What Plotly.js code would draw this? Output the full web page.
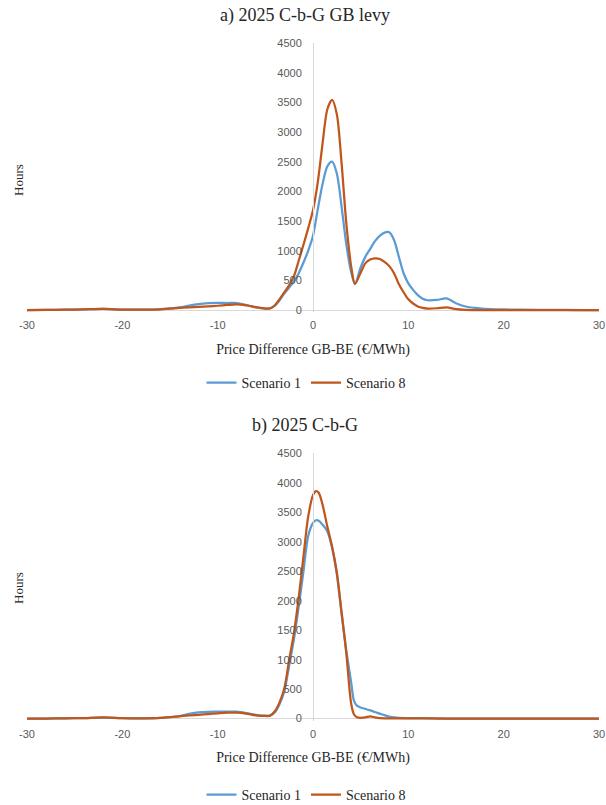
<!DOCTYPE html>
<html>
<head>
<meta charset="utf-8">
<script src="https://cdn.plot.ly/plotly-3.0.1.min.js"></script>
<style>html,body{margin:0;padding:0;background:#fff;}#chart{width:606px;height:805px;}</style>
</head>
<body>
<div id="chart"></div>
<script>
// ---- data ----
const titleA = "a) 2025 C-b-G GB levy";
const titleB = "b) 2025 C-b-G";
const seriesNames = ["Scenario 1", "Scenario 8"];
const xTitle = "Price Difference GB-BE (€/MWh)";
const yTitle = "Hours";

const xA = [-30,-28,-26,-24,-22,-20,-18,-16,-14,-13,-12,-11,-10,-9,-8,-7,-6,-5,-4.5,-4,-3.5,-3,-2.5,-2,-1.5,-1,-0.5,0,0.5,1,1.5,2,2.5,3,3.5,4,4.4,5,5.5,6,6.5,7,7.5,8,8.5,9,9.5,10,10.5,11,11.5,12,13,14,15,16,17,18,20,22,25,28,30];
const scen1A = [0,2,5,12,18,8,5,15,45,75,100,115,120,118,118,85,45,25,30,75,165,280,380,480,620,800,1000,1250,1700,2120,2420,2500,2300,1740,1100,640,440,720,900,1030,1160,1250,1305,1310,1180,900,620,450,340,250,190,165,170,195,115,60,35,20,10,5,2,0,0];
const scen8A = [0,2,5,12,18,8,5,12,35,45,55,62,72,85,95,80,50,25,25,80,185,300,420,570,830,1100,1380,1680,2150,2800,3380,3540,3300,2470,1450,740,440,630,790,850,870,860,810,740,620,440,300,180,110,60,35,25,30,45,15,3,0,0,0,0,0,0,0];

const xB = [-30,-28,-26,-24,-22,-20,-18,-16,-14,-13,-12,-11,-10,-9,-8,-7,-6,-5,-4.5,-4,-3.5,-3,-2.5,-2,-1.5,-1,-0.5,0,0.3,0.6,1,1.5,2,2.5,3,3.5,4,4.3,4.6,5,5.5,6,6.5,7,7.5,8,8.5,9,10,11,12,13,14,16,18,20,22,25,28,30];
const scen1B = [0,2,5,10,18,8,5,15,45,80,105,115,118,120,118,95,65,50,55,110,250,470,900,1350,1900,2500,3100,3320,3365,3355,3290,3180,2900,2450,1780,1150,620,300,220,190,165,140,112,85,60,35,20,12,10,8,6,4,2,0,0,0,0,0,0,0];
const scen8B = [0,2,5,10,20,8,5,12,40,55,65,78,90,100,102,85,55,45,50,125,280,520,1000,1450,2050,2750,3430,3790,3860,3830,3630,3260,2920,2480,1800,1100,260,70,25,15,22,38,20,8,5,5,5,5,5,4,3,2,0,0,0,0,0,0,0,0];

const xTicks = [-30,-20,-10,0,10,20,30];
const yTicks = [0,500,1000,1500,2000,2500,3000,3500,4000,4500];

// ---- styling ----
const colors = ["#5B9BD5", "#C0561A"];
const serif = "Liberation Serif, DejaVu Serif, serif";
const sans = "Liberation Sans, Arial, sans-serif";
const tickFont = {family: sans, size: 11, color: "#595959"};
const axisGray = "#d9d9d9";

function tr(x, y, i, xa, ya, leg, show) {
  return {
    x: x, y: y, type: "scatter", mode: "lines",
    name: seriesNames[i], xaxis: xa, yaxis: ya, legend: leg, showlegend: show,
    line: {color: colors[i], width: 2.25, shape: "spline", smoothing: 0.8},
    hoverinfo: "skip"
  };
}

const data = [
  tr(xA, scen1A, 0, "x", "y", "legend", true),
  tr(xA, scen8A, 1, "x", "y", "legend", true),
  tr(xB, scen1B, 0, "x2", "y2", "legend2", true),
  tr(xB, scen8B, 1, "x2", "y2", "legend2", true)
];

function xax(anchor) {
  return {
    domain: [0, 1], anchor: anchor, range: [-30, 30],
    tickvals: xTicks, ticktext: xTicks.map(String), tickfont: tickFont,
    showgrid: false, zeroline: false, showline: false, ticks: "",
    ticklabelstandoff: 5, automargin: false,
    title: {text: xTitle, font: {family: serif, size: 14, color: "#262626"}, standoff: 13},
    fixedrange: true
  };
}
function yax(domain) {
  return {
    domain: domain, anchor: "free", position: 0.5, range: [-40, 4500],
    tickvals: yTicks, ticktext: yTicks.map(String), tickfont: tickFont,
    showgrid: false, zeroline: true, zerolinecolor: axisGray, zerolinewidth: 1,
    showline: true, linecolor: axisGray, linewidth: 1, ticks: "",
    ticklabelstandoff: 9, automargin: false, fixedrange: true
  };
}

const PT = 43, PB = 721, H = PB - PT;
function py(p) { return (PB - p) / H; }
function px(p) { return (p - 27) / 572; }

const layout = {
  width: 606, height: 805,
  margin: {l: 27, r: 7, t: 43, b: 84, autoexpand: false},
  paper_bgcolor: "#ffffff", plot_bgcolor: "rgba(0,0,0,0)",
  showlegend: true,
  xaxis: xax("y"),
  yaxis: yax([py(312.4), 1]),
  xaxis2: xax("y2"),
  yaxis2: yax([0, py(453.3)]),
  legend: {orientation: "h", x: px(306), xanchor: "center", y: py(383), yanchor: "middle",
    font: {family: serif, size: 14, color: "#262626"}, itemwidth: 30, tracegroupgap: 0},
  legend2: {orientation: "h", x: px(306), xanchor: "center", y: py(795), yanchor: "middle",
    font: {family: serif, size: 14, color: "#262626"}, itemwidth: 30, tracegroupgap: 0},
  annotations: [
    {text: titleA, xref: "paper", yref: "paper", x: px(305), y: py(15), xanchor: "center", yanchor: "middle",
      showarrow: false, font: {family: serif, size: 18, color: "#262626"}},
    {text: titleB, xref: "paper", yref: "paper", x: px(305), y: py(425), xanchor: "center", yanchor: "middle",
      showarrow: false, font: {family: serif, size: 18, color: "#262626"}},
    {text: yTitle, xref: "paper", yref: "paper", x: px(18), y: py(180), xanchor: "center", yanchor: "middle",
      textangle: -90, showarrow: false, font: {family: serif, size: 13, color: "#262626"}},
    {text: yTitle, xref: "paper", yref: "paper", x: px(18), y: py(588), xanchor: "center", yanchor: "middle",
      textangle: -90, showarrow: false, font: {family: serif, size: 13, color: "#262626"}}
  ]
};

Plotly.newPlot("chart", data, layout, {staticPlot: true, displayModeBar: false});
</script>
</body>
</html>
